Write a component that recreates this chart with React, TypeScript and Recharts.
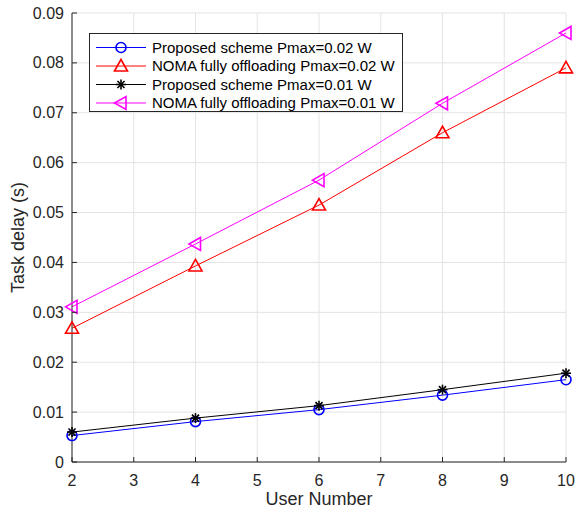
import React from "react";
import { LineChart, Line, XAxis, YAxis, CartesianGrid, Label } from "recharts";

const users = [2, 4, 6, 8, 10];
const proposed002 = [0.0053, 0.0081, 0.0105, 0.0134, 0.0165];
const noma002 = [0.0268, 0.0393, 0.0515, 0.066, 0.079];
const proposed001 = [0.006, 0.0088, 0.0113, 0.0145, 0.0178];
const noma001 = [0.0311, 0.0437, 0.0565, 0.0719, 0.086];
const xTicks = [2, 3, 4, 5, 6, 7, 8, 9, 10];
const yTicks = [0, 0.01, 0.02, 0.03, 0.04, 0.05, 0.06, 0.07, 0.08, 0.09];
const names = [
  "Proposed scheme Pmax=0.02 W",
  "NOMA fully offloading Pmax=0.02 W",
  "Proposed scheme Pmax=0.01 W",
  "NOMA fully offloading Pmax=0.01 W",
];

const data = users.map((u, i) => ({
  x: u,
  a: proposed002[i],
  b: noma002[i],
  c: proposed001[i],
  d: noma001[i],
}));

const FONT = "Arial, 'Liberation Sans', Helvetica, sans-serif";
const AX = "#262626";

const Marker = ({ kind, cx, cy, color }: any) => {
  if (cx == null || cy == null) return null;
  if (kind === "circle") return <circle cx={cx} cy={cy} r={5} fill="none" stroke={color} strokeWidth={1.6} />;
  if (kind === "up")
    return <polygon points={`${cx},${cy - 6.5} ${cx - 6.5},${cy + 5} ${cx + 6.5},${cy + 5}`} fill="none" stroke={color} strokeWidth={1.6} />;
  if (kind === "left")
    return <polygon points={`${cx - 6.5},${cy} ${cx + 5},${cy - 6.5} ${cx + 5},${cy + 6.5}`} fill="none" stroke={color} strokeWidth={1.6} />;
  const r = 5;
  const d = r * 0.7071;
  return (
    <g stroke={color} strokeWidth={1.6}>
      <line x1={cx - r} y1={cy} x2={cx + r} y2={cy} />
      <line x1={cx} y1={cy - r} x2={cx} y2={cy + r} />
      <line x1={cx - d} y1={cy - d} x2={cx + d} y2={cy + d} />
      <line x1={cx - d} y1={cy + d} x2={cx + d} y2={cy - d} />
    </g>
  );
};

const series = [
  { key: "a", color: "#0000FF", kind: "circle" },
  { key: "b", color: "#FF0000", kind: "up" },
  { key: "c", color: "#000000", kind: "star" },
  { key: "d", color: "#FF00FF", kind: "left" },
];

const LeftTick = (p: any) => (
  <g>
    <line x1={p.x} y1={p.y} x2={p.x + 5} y2={p.y} stroke={AX} />
    <text x={p.x - 8} y={p.y} dy={5.5} textAnchor="end" fontSize={16} fontFamily={FONT} fill={AX}>
      {p.payload.value === 0 ? "0" : p.payload.value.toFixed(2)}
    </text>
  </g>
);
const RightTick = (p: any) => <line x1={p.x - 5} y1={p.y} x2={p.x} y2={p.y} stroke={AX} />;
const BottomTick = (p: any) => (
  <g>
    <line x1={p.x} y1={p.y - 5} x2={p.x} y2={p.y} stroke={AX} />
    <text x={p.x} y={p.y + 24} textAnchor="middle" fontSize={16} fontFamily={FONT} fill={AX}>
      {p.payload.value}
    </text>
  </g>
);
const TopTick = (p: any) => <line x1={p.x} y1={p.y} x2={p.x} y2={p.y + 5} stroke={AX} />;

const LegendBox = () => (
  <div
    style={{
      position: "absolute",
      left: 89,
      top: 33,
      background: "#fff",
      border: `1px solid ${AX}`,
      width: 312,
      height: 77,
    }}
  >
    <svg width={312} height={77} style={{ display: "block" }}>
      {series.map((s, i) => {
        const y = 13.5 + i * 18.5;
        return (
          <g key={s.key}>
            <line x1={6} y1={y} x2={56} y2={y} stroke={s.color} strokeWidth={1} />
            <Marker kind={s.kind} cx={31} cy={y} color={s.color} />
            <text x={62} y={y + 5} fontSize={15} fontFamily={FONT} fill="#000">
              {names[i]}
            </text>
          </g>
        );
      })}
    </svg>
  </div>
);

export default function App() {
  return (
    <div style={{ position: "absolute", left: 0, top: 0, width: 576, height: 508, background: "#fff" }}>
      <LineChart width={576} height={508} data={data} margin={{ top: 13, right: 10, bottom: 0, left: 0 }}>
        <CartesianGrid stroke="#e3e3e3" strokeWidth={1} />
        <XAxis
          dataKey="x"
          type="number"
          domain={[2, 10]}
          ticks={xTicks}
          height={46}
          tickSize={0}
          tickMargin={0}
          tick={<BottomTick />}
          stroke={AX}
          interval={0}
        >
          <Label value="User Number" position="insideBottom" offset={3} fontSize={18} fontFamily={FONT} fill={AX} />
        </XAxis>
        <XAxis
          xAxisId="t"
          orientation="top"
          dataKey="x"
          type="number"
          domain={[2, 10]}
          ticks={xTicks}
          height={0}
          tickSize={0}
          tickMargin={0}
          tick={<TopTick />}
          stroke={AX}
          interval={0}
        />
        <YAxis
          type="number"
          domain={[0, 0.09]}
          ticks={yTicks}
          width={72}
          tickSize={0}
          tickMargin={0}
          tick={<LeftTick />}
          stroke={AX}
          interval={0}
        >
          <Label value="Task delay (s)" angle={-90} position="center" dx={-18} fontSize={18} fontFamily={FONT} fill={AX} />
        </YAxis>
        <YAxis
          yAxisId="r"
          orientation="right"
          type="number"
          domain={[0, 0.09]}
          ticks={yTicks}
          width={0}
          tickSize={0}
          tickMargin={0}
          tick={<RightTick />}
          stroke={AX}
          interval={0}
        />
        {series.map((s) => (
          <Line
            key={s.key}
            dataKey={s.key}
            stroke={s.color}
            strokeWidth={1}
            isAnimationActive={false}
            dot={(p: any) => <Marker key={`${s.key}-${p.index}`} kind={s.kind} cx={p.cx} cy={p.cy} color={s.color} />}
            activeDot={false}
          />
        ))}
      </LineChart>
      <LegendBox />
    </div>
  );
}
